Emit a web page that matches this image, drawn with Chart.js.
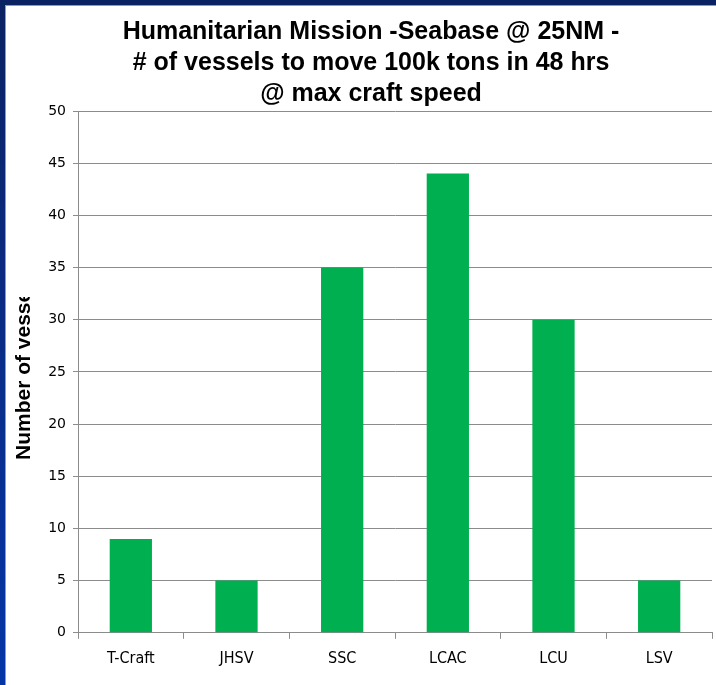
<!DOCTYPE html>
<html>
<head>
<meta charset="utf-8">
<script src="https://cdn.jsdelivr.net/npm/chart.js@4"></script>
<style>
  html, body { margin: 0; padding: 0; }
  body {
    width: 716px; height: 685px; overflow: hidden;
    background: linear-gradient(to bottom, #0a2262 0%, #0b2a80 40%, #0536a6 100%);
    position: relative;
  }
  #frame {
    position: absolute; left: 5px; top: 5px; width: 711px; height: 680px;
    background: #ffffff; border-left: 1px solid #9a9a9a; border-top: 1px solid #9a9a9a;
  }
  #wrap { position: absolute; left: 0; top: 0; width: 710px; height: 679px; }
</style>
</head>
<body>
<div id="frame"><div id="wrap"><canvas id="vesselChart"></canvas></div></div>
<script>
const craftTypes = ["T-Craft", "JHSV", "SSC", "LCAC", "LCU", "LSV"];
const vesselCounts = [9, 5, 35, 44, 30, 5];
const titleLines = [
  "Humanitarian Mission -Seabase @ 25NM -",
  "# of vessels to move 100k tons in 48 hrs",
  "@ max craft speed"
];
const yAxisTitle = "Number of vessels";

const gridGrey = "#8c8c8c";

// Y axis title, cut off at the top like the original
const clippedYTitle = {
  id: "clippedYTitle",
  afterDraw(chart) {
    const c = chart.ctx;
    c.save();
    c.beginPath();
    c.rect(0, 291, 60, 400);
    c.clip();
    c.translate(18, 454);
    c.rotate(-Math.PI / 2);
    c.font = "bold 21px 'Liberation Sans', Arial, sans-serif";
    c.fillStyle = "#000000";
    c.textAlign = "left";
    c.textBaseline = "middle";
    c.fillText(yAxisTitle, 0, 0);
    c.restore();
  }
};

const ctx = document.getElementById("vesselChart").getContext("2d");

new Chart(ctx, {
  type: "bar",
  data: {
    labels: craftTypes,
    datasets: [{
      label: "Vessels",
      data: vesselCounts,
      backgroundColor: "#00b050",
      barPercentage: 0.4,
      categoryPercentage: 1.0,
    }]
  },
  options: {
    responsive: true,
    maintainAspectRatio: false,
    animation: false,
    layout: { padding: { left: 24, right: 4, top: 0, bottom: 7 } },
    plugins: {
      legend: { display: false },
      tooltip: { enabled: false },
      title: {
        display: true,
        text: titleLines,
        color: "#000000",
        font: { family: "'Liberation Sans', Arial, sans-serif", size: 25, weight: "bold", lineHeight: 1.24 },
        padding: { top: 11, bottom: 1 },
      },
    },
    scales: {
      x: {
        offset: true,
        grid: { display: true, drawOnChartArea: false, offset: true, tickLength: 6, color: gridGrey },
        border: { color: gridGrey },
        ticks: {
          color: "#000000",
          padding: 10,
          font: { family: "'DejaVu Sans Condensed', 'Liberation Sans Narrow', sans-serif", size: 16 },
        },
      },
      y: {
        min: 0,
        max: 50,
        ticks: {
          stepSize: 5,
          color: "#000000",
          padding: 7,
          font: { family: "'DejaVu Sans', sans-serif", size: 14 },
        },
        grid: { color: gridGrey, tickLength: 5 },
        border: { color: gridGrey },
        afterFit(scale) { scale.width = 48; },
      },
    },
  },
  plugins: [clippedYTitle],
});
</script>
</body>
</html>
